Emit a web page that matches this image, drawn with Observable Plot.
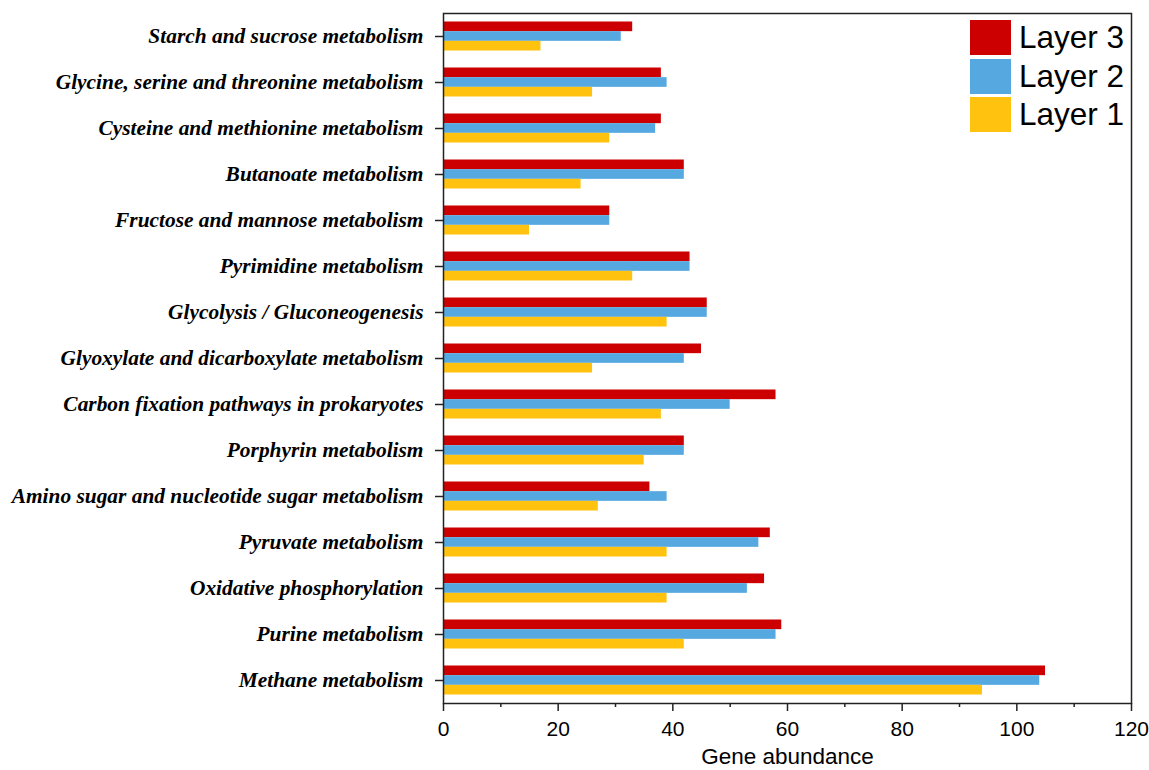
<!DOCTYPE html>
<html>
<head>
<meta charset="utf-8">
<script src="https://cdn.jsdelivr.net/npm/d3@7"></script>
<script src="https://cdn.jsdelivr.net/npm/@observablehq/plot@0.6"></script>
<style>
  html, body { margin: 0; padding: 0; background: #fff; }
  #wrap { position: relative; width: 1149px; height: 770px; }
  #legend { position: absolute; left: 970px; top: 20px; font-family: "Liberation Sans", Arial, sans-serif; font-size: 31.5px; color: #000; }
  .item { display: flex; align-items: center; height: 35px; margin-bottom: 3.5px; }
  .sw { width: 41px; height: 35px; margin-right: 8px; }
  svg g[aria-label="y-axis tick label"] text { font-family: "Liberation Serif", "Times New Roman", serif; font-style: italic; font-weight: bold; }
</style>
</head>
<body>
<div id="wrap"></div>
<script>
const categories = [
  "Starch and sucrose metabolism",
  "Glycine, serine and threonine metabolism",
  "Cysteine and methionine metabolism",
  "Butanoate metabolism",
  "Fructose and mannose metabolism",
  "Pyrimidine metabolism",
  "Glycolysis / Gluconeogenesis",
  "Glyoxylate and dicarboxylate metabolism",
  "Carbon fixation pathways in prokaryotes",
  "Porphyrin metabolism",
  "Amino sugar and nucleotide sugar metabolism",
  "Pyruvate metabolism",
  "Oxidative phosphorylation",
  "Purine metabolism",
  "Methane metabolism"
];
const layer3 = [33, 38, 38, 42, 29, 43, 46, 45, 58, 42, 36, 57, 56, 59, 105];
const layer2 = [31, 39, 37, 42, 29, 43, 46, 42, 50, 42, 39, 55, 53, 58, 104];
const layer1 = [17, 26, 29, 24, 15, 33, 39, 26, 38, 35, 27, 39, 39, 42, 94];
const layers = ["Layer 3", "Layer 2", "Layer 1"];
const colors = ["#cc0000", "#55a8e0", "#ffc20e"];
const majorTicks = [0, 20, 40, 60, 80, 100, 120];
const minorTicks = [10, 30, 50, 70, 90, 110];

const seriesValues = [layer3, layer2, layer1];
const data = categories.flatMap((c, i) =>
  layers.map((l, j) => ({category: c, layer: l, value: seriesValues[j][i]}))
);

const step = 46;
const barH = 9.67;
const outer = (step - 3 * barH) / 2;
const marks = [];
layers.forEach((l, j) => {
  const top = outer + j * barH;
  const bottom = step - top - barH;
  marks.push(Plot.barX(data.filter(d => d.layer === l), {
    x: "value", y: "category", fill: colors[j], insetTop: top, insetBottom: bottom
  }));
});
marks.push(Plot.frame({stroke: "#222", strokeWidth: 1.5}));
marks.push(Plot.axisY({tickSize: 8, tickPadding: 12, fontSize: 21.4, strokeWidth: 1.5, stroke: "#222", fill: "#000"}));
marks.push(Plot.axisX({ticks: majorTicks, tickSize: 8, tickPadding: 10, fontSize: 21, strokeWidth: 1.5, stroke: "#222", fill: "#000", label: null}));
marks.push(Plot.axisX({ticks: minorTicks, tickSize: 4, text: null, strokeWidth: 1.5, stroke: "#222", label: null}));
marks.push(Plot.text(["Gene abundance"], {frameAnchor: "bottom", dy: 60, fontSize: 22.5, fill: "#000"}));

const svg = Plot.plot({
  width: 1149,
  height: 770,
  marginLeft: 443,
  marginRight: 18,
  marginTop: 13,
  marginBottom: 67,
  style: {fontFamily: "Liberation Sans, Arial, sans-serif", color: "#000", background: "#fff"},
  y: {domain: categories, padding: 0, label: null},
  x: {domain: [0, 120], label: null},
  marks
});
const wrap = document.getElementById("wrap");
wrap.appendChild(svg);

const legend = document.createElement("div");
legend.id = "legend";
layers.forEach((l, j) => {
  const item = document.createElement("div");
  item.className = "item";
  const sw = document.createElement("div");
  sw.className = "sw";
  sw.style.background = colors[j];
  const t = document.createElement("span");
  t.textContent = l;
  item.appendChild(sw);
  item.appendChild(t);
  legend.appendChild(item);
});
wrap.appendChild(legend);
</script>
</body>
</html>
